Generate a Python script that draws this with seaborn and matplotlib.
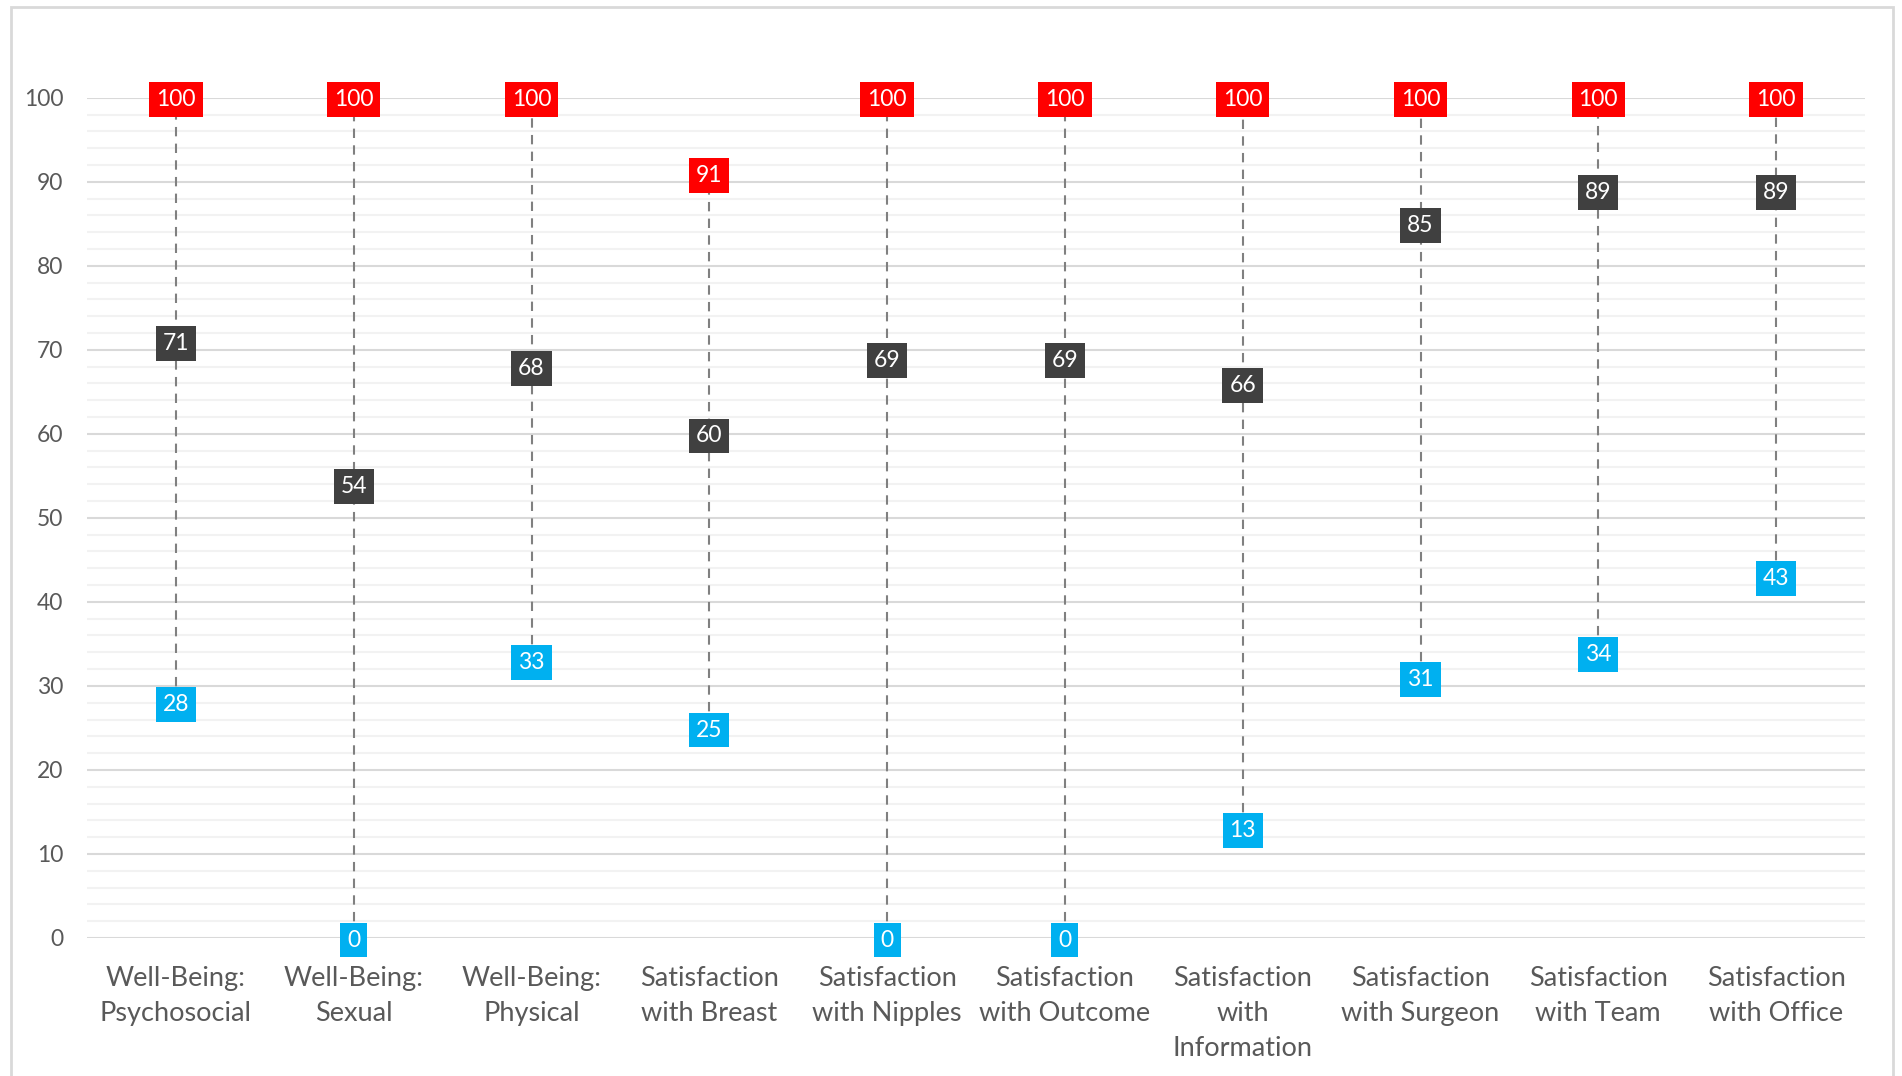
import numpy as np
import pandas as pd
import matplotlib.pyplot as plt
import seaborn as sns
from matplotlib.patches import Rectangle
from matplotlib.ticker import MultipleLocator

# data
categories = ['Well-Being:\nPsychosocial', 'Well-Being:\nSexual', 'Well-Being:\nPhysical',
              'Satisfaction\nwith Breast', 'Satisfaction\nwith Nipples', 'Satisfaction\nwith Outcome',
              'Satisfaction\nwith\nInformation', 'Satisfaction\nwith Surgeon', 'Satisfaction\nwith Team',
              'Satisfaction\nwith Office']
max_vals = [100, 100, 100, 91, 100, 100, 100, 100, 100, 100]
mean_vals = [71, 54, 68, 60, 69, 69, 66, 85, 89, 89]
min_vals = [28, 0, 33, 25, 0, 0, 13, 31, 34, 43]

red = '#FF0000'
dark = '#404040'
blue = '#00B0F0'

sns.set_style('white')
plt.rcParams['font.family'] = ['Lato', 'DejaVu Sans']

fig = plt.figure(figsize=(19.02, 10.76), dpi=100)
ax = fig.add_axes([87 / 1902, 1 - 938 / 1076, (1865 - 87) / 1902, (938 - 97.7) / 1076])

x = np.arange(len(categories))

# high-low dashed connector
ax.vlines(x, min_vals, max_vals, colors='#808080', linestyles=(0, (4.5, 3.5)), linewidth=1.5, zorder=2)

df = pd.DataFrame({'x': np.tile(x, 3),
                   'value': max_vals + mean_vals + min_vals,
                   'series': ['max'] * len(x) + ['mean'] * len(x) + ['min'] * len(x)})
sns.scatterplot(data=df, x='x', y='value', hue='series', marker='s', s=120,
                palette={'max': red, 'mean': dark, 'min': blue}, edgecolor='none',
                legend=False, ax=ax, zorder=3, clip_on=False)

# value labels in coloured boxes
for vals, col in [(max_vals, red), (mean_vals, dark), (min_vals, blue)]:
    for xi, v in zip(x, vals):
        ax.annotate(str(v), (xi, v), xytext=(0, -1.5), textcoords='offset points',
                    ha='center', va='center', color='white', fontsize=16.5,
                    zorder=4, annotation_clip=False,
                    bbox=dict(boxstyle='square,pad=0.3', fc=col, ec='none'))

ax.set_xlim(-0.5, len(categories) - 0.5)
ax.set_ylim(0, 100)
ax.yaxis.set_major_locator(MultipleLocator(10))
ax.yaxis.set_minor_locator(MultipleLocator(2))
ax.grid(which='major', axis='y', color='#d9d9d9', linewidth=1.5, zorder=0)
ax.grid(which='minor', axis='y', color='#f2f2f2', linewidth=1.5, zorder=0)
ax.grid(False, axis='x')
ax.set_axisbelow(True)
for s in ax.spines.values():
    s.set_visible(False)

ax.set_xticks(x)
ax.set_xticklabels(categories, fontsize=19.5, color='#595959', linespacing=1.5)
ax.tick_params(axis='x', length=0, pad=20)
ax.tick_params(axis='y', which='both', length=0, pad=17, labelsize=16.5, labelcolor='#595959')
ax.set_xlabel('')
ax.set_ylabel('')

# chart border
fig.patches.append(Rectangle((11 / 1902, -0.01), (1893 - 11) / 1902, 1.01 - 7 / 1076,
                             transform=fig.transFigure, fill=False, ec='#d9d9d9', lw=2))

fig.savefig('out.png', dpi=100, facecolor='white')
